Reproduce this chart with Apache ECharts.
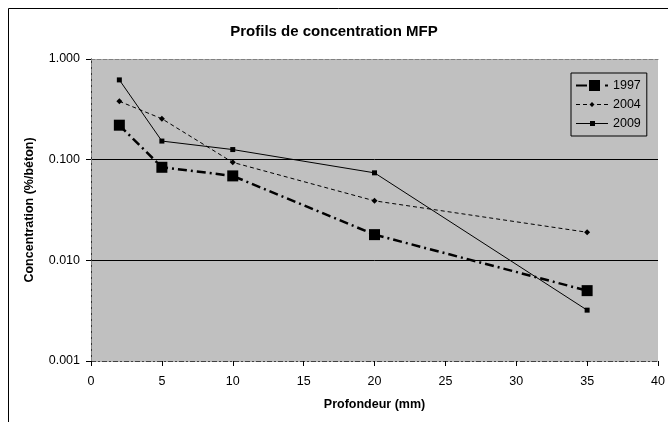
<!DOCTYPE html>
<html>
<head>
<meta charset="utf-8">
<script src="https://cdn.jsdelivr.net/npm/echarts@6/dist/echarts.min.js"></script>
<style>
  html, body { margin: 0; padding: 0; background: #fff; }
  #main { width: 668px; height: 422px; }
</style>
</head>
<body>
<div id="main"></div>
<script>
// profondeurs (mm)
const depths = [2, 5, 10, 20, 35];
// concentrations MFP (% / béton)
const c1997 = [0.22, 0.084, 0.069, 0.018, 0.005];
const c2004 = [0.38, 0.255, 0.094, 0.039, 0.019];
const c2009 = [0.62, 0.153, 0.126, 0.074, 0.0032];

const pairs = (xs, ys) => xs.map((x, i) => [x, ys[i]]);
const font = "Liberation Sans, Arial, sans-serif";

// legend keys drawn like the Excel ones (line + marker)
const icon1997 = "path://M0,4.5h11v2h-11z M13,0h11v11h-11z M29,4.5h3v2h-3z";
const icon2004 = "path://M0,2h4v1h-4z M7,2h4v1h-4z M13.5,2.5L16,0L18.5,2.5L16,5z M21,2h4v1h-4z M28,2h4v1h-4z";
const icon2009 = "path://M0,2h14v1h-14z M14,0h5v5h-5z M19,2h13v1h-13z";

const chart = echarts.init(document.getElementById("main"));
chart.setOption({
  animation: false,
  backgroundColor: "#fff",
  textStyle: { fontFamily: font },
  title: {
    text: "Profils de concentration MFP",
    left: "center",
    top: 19,
    textStyle: { fontFamily: font, fontSize: 15, fontWeight: "bold", color: "#000" },
  },
  graphic: [
    {
      type: "rect",
      silent: true,
      shape: { x: 8.5, y: 8.5, width: 720, height: 520 },
      style: { fill: "none", stroke: "#000", lineWidth: 1 },
    },
  ],
  legend: {
    orient: "vertical",
    left: 571,
    top: 73,
    padding: [6, 6, 6, 5],
    itemWidth: 32,
    itemHeight: 12,
    itemGap: 6,
    borderColor: "#000",
    borderWidth: 1,
    textStyle: { fontFamily: font, fontSize: 12.5, color: "#000" },
    data: [
      { name: "1997", icon: icon1997 },
      { name: "2004", icon: icon2004 },
      { name: "2009", icon: icon2009 },
    ],
  },
  grid: {
    left: 91,
    right: 10,
    top: 59,
    bottom: 61,
    show: true,
    backgroundColor: "#c0c0c0",
    borderWidth: 0,
  },
  xAxis: [
    {
      type: "value",
      min: 0,
      max: 40,
      interval: 5,
      name: "Profondeur (mm)",
      nameLocation: "middle",
      nameGap: 37,
      nameTextStyle: { fontFamily: font, fontSize: 12.5, fontWeight: "bold", color: "#000" },
      axisLine: { lineStyle: { color: "#404040", width: 1, type: [5, 2, 2, 2] } },
      axisTick: { show: true, length: 5, inside: false, lineStyle: { color: "#000" } },
      axisLabel: { margin: 14, fontSize: 12.5, color: "#000", fontFamily: font },
      splitLine: { show: false },
    },
    {
      type: "value",
      position: "top",
      min: 0,
      max: 40,
      axisLine: { show: true, lineStyle: { color: "#808080", type: "dashed", width: 1 } },
      axisTick: { show: false },
      axisLabel: { show: false },
      splitLine: { show: false },
    },
  ],
  yAxis: [
    {
      type: "log",
      logBase: 10,
      min: 0.001,
      max: 1,
      name: "Concentration (%/béton)",
      nameLocation: "middle",
      nameGap: 55,
      nameTextStyle: { fontFamily: font, fontSize: 12.5, fontWeight: "bold", color: "#000" },
      axisLine: { show: true, lineStyle: { color: "#000", width: 1 } },
      axisTick: { show: true, length: 5, inside: false, lineStyle: { color: "#000" } },
      minorTick: { show: false },
      axisLabel: {
        margin: 11,
        fontSize: 12.5,
        color: "#000",
        fontFamily: font,
        formatter: (v) => v.toFixed(3),
      },
      splitLine: {
        show: true,
        showMinLine: false,
        showMaxLine: false,
        lineStyle: { color: "#000", width: 1 },
      },
    },
    {
      type: "log",
      logBase: 10,
      position: "right",
      min: 0.001,
      max: 1,
      axisLine: { show: true, lineStyle: { color: "#808080", type: "dashed", width: 1 } },
      axisTick: { show: false },
      axisLabel: { show: false },
      splitLine: { show: false },
    },
  ],
  series: [
    {
      name: "1997",
      type: "line",
      xAxisIndex: 0,
      yAxisIndex: 0,
      data: pairs(depths, c1997),
      symbol: "rect",
      symbolSize: 11,
      itemStyle: { color: "#000" },
      lineStyle: { color: "#000", width: 2.5, type: [9, 4, 2, 4] },
      z: 3,
    },
    {
      name: "2004",
      type: "line",
      xAxisIndex: 0,
      yAxisIndex: 0,
      data: pairs(depths, c2004),
      symbol: "diamond",
      symbolSize: 6,
      itemStyle: { color: "#000" },
      lineStyle: { color: "#000", width: 1, type: [4, 3] },
      z: 2,
    },
    {
      name: "2009",
      type: "line",
      xAxisIndex: 0,
      yAxisIndex: 0,
      data: pairs(depths, c2009),
      symbol: "rect",
      symbolSize: 5,
      itemStyle: { color: "#000" },
      lineStyle: { color: "#000", width: 1, type: "solid" },
      z: 2,
    },
  ],
});
</script>
</body>
</html>
